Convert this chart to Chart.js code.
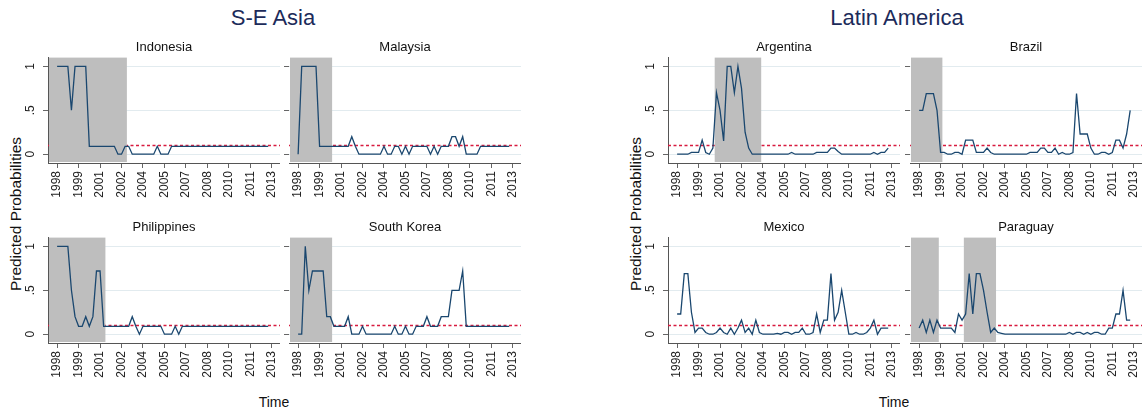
<!DOCTYPE html>
<html>
<head>
<meta charset="utf-8">
<title>Predicted probabilities</title>
<script src="https://cdn.jsdelivr.net/npm/chart.js@4.4.1/dist/chart.umd.min.js"></script>
<style>
  body { margin: 0; width: 1142px; height: 414px; overflow: hidden; background: #fff;
         font-family: "Liberation Sans", Arial, sans-serif; }
  .panel { position: absolute; }
  .narrow { font-family: "Liberation Sans Narrow", "Liberation Sans", Arial, sans-serif; }
  .gtitle { position: absolute; top: 7px; line-height: 1; font-size: 22px; color: #1c2b5a;
            transform: translateX(-50%); white-space: nowrap; }
  .ytitle { position: absolute; top: 214px; line-height: 1; font-size: 15.5px; color: #111;
            transform: translate(-50%, -50%) rotate(-90deg); white-space: nowrap; }
  .xtitle { position: absolute; top: 395px; line-height: 1; font-size: 14px; color: #111;
            transform: translateX(-50%); white-space: nowrap; }
</style>
</head>
<body>

<div class="gtitle narrow" style="left:273px">S-E Asia</div>
<div class="gtitle narrow" style="left:897px">Latin America</div>
<div class="ytitle" style="left:16px">Predicted Probabilities</div>
<div class="ytitle" style="left:636px">Predicted Probabilities</div>
<div class="xtitle narrow" style="left:274px">Time</div>
<div class="xtitle narrow" style="left:894px">Time</div>

<div class="panel" id="p0"><canvas id="c0"></canvas></div>
<div class="panel" id="p1"><canvas id="c1"></canvas></div>
<div class="panel" id="p2"><canvas id="c2"></canvas></div>
<div class="panel" id="p3"><canvas id="c3"></canvas></div>
<div class="panel" id="p4"><canvas id="c4"></canvas></div>
<div class="panel" id="p5"><canvas id="c5"></canvas></div>
<div class="panel" id="p6"><canvas id="c6"></canvas></div>
<div class="panel" id="p7"><canvas id="c7"></canvas></div>

<script>
// quarterly data, 1998q1 .. 2012q4 (index 0..59)
const xTickPos = [0, 6, 12, 18, 24, 30, 36, 42, 48, 54, 60];
const xTickLabels = ['1998', '1999', '2001', '2002', '2004', '2005', '2007', '2008', '2010', '2011', '2013'];
const yTickPos = [0, 0.5, 1];
const yTickLabels = ['0', '.5', '1'];
const threshold = 0.1;

const indonesia = [1,1,1,1,0.5,1,1,1,1,0.09,0.09,0.09,0.09,0.09,0.09,0.09,0.09,0,0,0.09,
  0.09,0,0,0,0,0,0,0,0.09,0,0,0,0.09,0.09,0.09,0.09,0.09,0.09,0.09,0.09,
  0.09,0.09,0.09,0.09,0.09,0.09,0.09,0.09,0.09,0.09,0.09,0.09,0.09,0.09,0.09,0.09,0.09,0.09,0.09,0.09];
const malaysia = [0,1,1,1,1,1,0.09,0.09,0.09,0.09,0.09,0.09,0.09,0.09,0.09,0.2,0.09,0,0,0,
  0,0,0,0,0.09,0,0,0.09,0.09,0,0.09,0,0.09,0.09,0.09,0.09,0.09,0,0.09,0,
  0.09,0.09,0.09,0.2,0.2,0.09,0.2,0,0,0,0,0.09,0.09,0.09,0.09,0.09,0.09,0.09,0.09,0.09];
const philippines = [1,1,1,1,0.5,0.2,0.09,0.09,0.2,0.09,0.2,0.72,0.72,0.09,0.09,0.09,0.09,0.09,0.09,0.09,
  0.09,0.2,0.09,0,0.09,0.09,0.09,0.09,0.09,0.09,0,0,0,0.09,0,0.09,0.09,0.09,0.09,0.09,
  0.09,0.09,0.09,0.09,0.09,0.09,0.09,0.09,0.09,0.09,0.09,0.09,0.09,0.09,0.09,0.09,0.09,0.09,0.09,0.09];
const southKorea = [0,0,1,0.5,0.72,0.72,0.72,0.72,0.2,0.2,0.09,0.09,0.09,0.09,0.2,0,0,0,0.09,0,
  0,0,0,0,0,0,0,0.09,0,0,0.09,0,0,0.09,0.09,0.09,0.2,0.09,0.09,0.09,
  0.2,0.2,0.2,0.5,0.5,0.5,0.72,0.09,0.09,0.09,0.09,0.09,0.09,0.09,0.09,0.09,0.09,0.09,0.09,0.09];
const argentina = [0,0,0,0,0.02,0.02,0.02,0.16,0.02,0,0.07,0.7,0.5,0.15,1,1,0.7,1,0.75,0.25,
  0.07,0,0,0,0,0,0,0,0,0,0,0,0.02,0,0,0,0,0,0,0.02,
  0.02,0.02,0.02,0.07,0.07,0.03,0,0,0,0,0,0,0,0,0,0.02,0,0.02,0.02,0.07];
const brazil = [0.5,0.5,0.69,0.69,0.69,0.5,0.02,0.02,0,0,0.02,0.02,0,0.16,0.16,0.16,0.02,0.02,0.02,0.07,
  0.02,0,0,0,0,0,0,0,0,0,0,0.02,0.02,0.02,0.07,0.07,0.02,0.02,0.07,0,
  0.02,0,0,0.02,0.69,0.23,0.23,0.23,0.07,0,0,0.02,0.02,0,0.02,0.16,0.16,0.07,0.23,0.5];
const mexico = [0.23,0.23,0.69,0.69,0.25,0.02,0.07,0.07,0.02,0,0,0.02,0.07,0.02,0,0.07,0,0.07,0.16,0.02,
  0.07,0,0.16,0.02,0,0,0,0,0.01,0,0.02,0.02,0,0.02,0.02,0.07,0,0,0.02,0.23,
  0.02,0.16,0.16,0.69,0.16,0.25,0.5,0.25,0,0,0.02,0,0,0.02,0.07,0.16,0,0.07,0.07,0.07];
const paraguay = [0.07,0.16,0.02,0.16,0.02,0.16,0.07,0.07,0.07,0.07,0.02,0.23,0.16,0.23,0.69,0.23,0.69,0.69,0.5,0.25,
  0.02,0.07,0.02,0.01,0,0,0,0,0,0,0,0,0,0,0,0,0,0,0,0,
  0,0,0.02,0,0.02,0.02,0,0.02,0,0.02,0.02,0,0,0.07,0.07,0.23,0.23,0.5,0.16,0.16];

// shaded crisis periods, in quarter index units
const indonesiaBoxes = [[-3, 19.5]];
const malaysiaBoxes = [[-3, 9.5]];
const philippinesBoxes = [[-3, 13.5]];
const southKoreaBoxes = [[-3, 9.5]];
const argentinaBoxes = [[10.5, 23.5]];
const brazilBoxes = [[-3, 6.5]];
const mexicoBoxes = [];
const paraguayBoxes = [[-3, 5.5], [12.5, 21.5]];

const navy = '#1a476f';
const plotLeft = [48, 289, 668, 910];
const rowTop = [40, 220];

function shadePlugin(boxes) {
  return {
    id: 'shade',
    beforeDatasetsDraw(chart) {
      const { ctx, chartArea: a, scales: { x, y } } = chart;
      const ty = Math.round(y.getPixelForValue(threshold)) + 0.5;
      ctx.save();
      // reference line at the threshold
      ctx.strokeStyle = '#d81b3f';
      ctx.lineWidth = 1.5;
      ctx.setLineDash([3, 2.5]);
      ctx.beginPath();
      ctx.moveTo(a.left, ty);
      ctx.lineTo(a.right, ty);
      ctx.stroke();
      ctx.setLineDash([]);
      ctx.fillStyle = '#bebebe';
      boxes.forEach(([b0, b1]) => {
        const l = Math.max(x.getPixelForValue(b0), a.left + 1);
        const r = Math.min(x.getPixelForValue(b1), a.right);
        ctx.fillRect(l, a.top, r - l, a.bottom - a.top - 1);
      });
      ctx.restore();
    }
  };
}

function panel(idx, name, vals, boxes, col, row) {
  const showY = col % 2 === 0;
  const yw = showY ? 48 : 8;
  const box = document.getElementById('p' + idx);
  box.style.left = (plotLeft[col] - yw) + 'px';
  box.style.top = rowTop[row] + 'px';
  box.style.width = (yw + 232) + 'px';
  box.style.height = '163px';

  new Chart(document.getElementById('c' + idx), {
    type: 'line',
    data: {
      datasets: [{
        data: vals.map((v, i) => ({ x: i, y: v })),
        borderColor: navy,
        borderWidth: 1.3,
        pointRadius: 0,
        tension: 0
      }]
    },
    options: {
      responsive: true,
      maintainAspectRatio: false,
      animation: false,
      layout: { padding: 0 },
      plugins: {
        legend: { display: false },
        tooltip: { enabled: false },
        title: {
          display: true,
          text: name,
          fullSize: false,
          color: '#111',
          font: { family: '"Liberation Sans Narrow", "Liberation Sans", Arial', size: 13, weight: 'normal' },
          padding: { top: 0, bottom: 2 }
        }
      },
      scales: {
        x: {
          type: 'linear',
          min: -2.55,
          max: 62.3,
          afterBuildTicks: s => { s.ticks = xTickPos.map(v => ({ value: v })); },
          afterFit: s => { s.height = 40; s.paddingLeft = 0; s.paddingRight = 0; },
          ticks: {
            autoSkip: false, minRotation: 90, maxRotation: 90, padding: 3,
            color: '#222', font: { size: 12 },
            callback: (v, i) => xTickLabels[i]
          },
          grid: { drawOnChartArea: false, tickLength: 5, tickColor: '#666' },
          border: { color: '#555' }
        },
        y: {
          min: -0.1,
          max: 1.1,
          afterBuildTicks: s => { s.ticks = yTickPos.map(v => ({ value: v })); },
          afterFit: s => { s.width = yw; s.paddingTop = 0; s.paddingBottom = 0; },
          ticks: {
            display: showY, minRotation: 90, maxRotation: 90, crossAlign: 'center', padding: 7,
            color: '#222', font: { size: 12 },
            callback: (v, i) => yTickLabels[i]
          },
          grid: { color: '#e2ebef', tickLength: 5, tickColor: '#666' },
          border: { display: showY, color: '#555' }
        }
      }
    },
    plugins: [shadePlugin(boxes)]
  });
}

panel(0, 'Indonesia', indonesia, indonesiaBoxes, 0, 0);
panel(1, 'Malaysia', malaysia, malaysiaBoxes, 1, 0);
panel(2, 'Philippines', philippines, philippinesBoxes, 0, 1);
panel(3, 'South Korea', southKorea, southKoreaBoxes, 1, 1);
panel(4, 'Argentina', argentina, argentinaBoxes, 2, 0);
panel(5, 'Brazil', brazil, brazilBoxes, 3, 0);
panel(6, 'Mexico', mexico, mexicoBoxes, 2, 1);
panel(7, 'Paraguay', paraguay, paraguayBoxes, 3, 1);
</script>
</body>
</html>
